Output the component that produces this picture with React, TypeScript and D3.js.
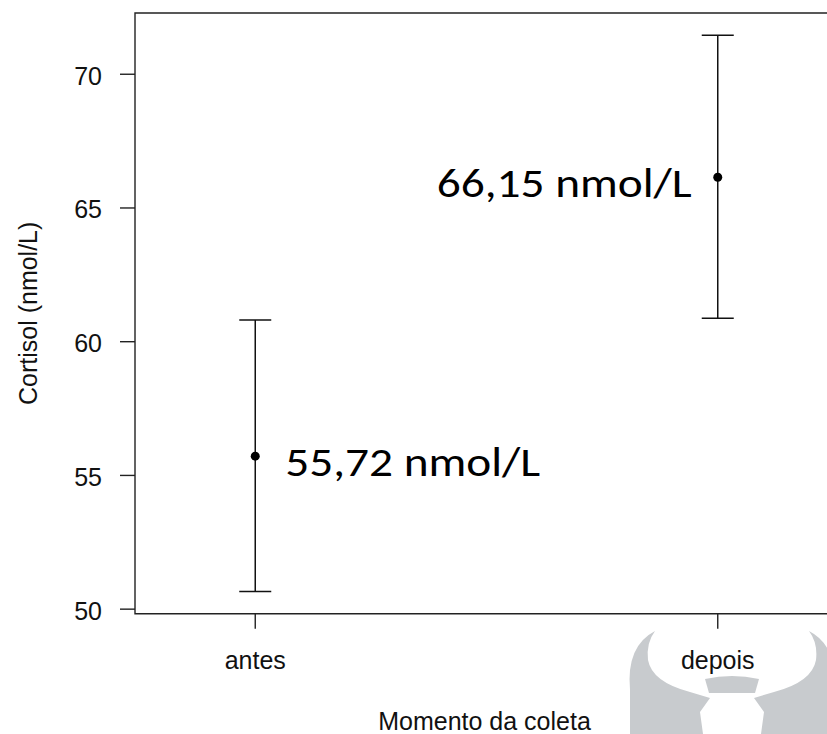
import React, { useEffect, useRef } from 'react';
import * as d3 from 'd3';

const categories = ['antes', 'depois'];
const means = [55.72, 66.15];
const lower = [50.66, 60.88];
const upper = [60.81, 71.46];
const pointLabels = ['55,72 nmol/L', '66,15 nmol/L'];
const yTicks = [50, 55, 60, 65, 70];

const WIDTH = 827;
const HEIGHT = 734;

function drawChart(container: SVGSVGElement) {
  const svg = d3.select(container);
  svg.selectAll('*').remove();

  // plot box (right edge runs off the canvas, like the original)
  const left = 135;
  const right = 838;
  const top = 13;
  const bottom = 613.7;

  const x = d3.scalePoint<string>()
    .domain(categories)
    .range([left, right])
    .padding(0.26);

  const y = d3.scaleLinear()
    .domain([49.83, 72.29])
    .range([bottom, top]);

  // watermark (grey bull head) sits behind everything
  const mark = svg.append('g').attr('fill', '#c8cbce');
  const cx = 732;
  const side = 'M655,631 Q626,646 630,690 L630,734 L703,734 L700,712 L710,698 L690,692 Q652,682 648,660 Q646,643 655,631 Z';
  mark.append('path').attr('d', side);
  mark.append('path').attr('d', side)
    .attr('transform', `translate(${2 * cx},0) scale(-1,1)`);
  mark.append('path').attr('d', 'M705,679 Q732,673 759,679 L755,693 L709,693 Z');

  // box
  svg.append('path')
    .attr('d', `M${right},${top} L${left},${top} L${left},${bottom} L${right},${bottom}`)
    .attr('fill', 'none')
    .attr('stroke', '#222')
    .attr('stroke-width', 1.4);

  const font = '"Liberation Sans", Arial, sans-serif';

  // y axis ticks
  const yAxis = svg.append('g');
  yAxis.selectAll('line')
    .data(yTicks)
    .enter().append('line')
    .attr('x1', left - 15)
    .attr('x2', left)
    .attr('y1', d => y(d))
    .attr('y2', d => y(d))
    .attr('stroke', '#222')
    .attr('stroke-width', 1.4);
  yAxis.selectAll('text')
    .data(yTicks)
    .enter().append('text')
    .attr('x', 102)
    .attr('y', d => y(d))
    .attr('dy', '0.42em')
    .attr('text-anchor', 'end')
    .style('font-family', font)
    .style('font-size', '25px')
    .attr('fill', '#111')
    .text(d => d);

  // x axis ticks
  const xAxis = svg.append('g');
  xAxis.selectAll('line')
    .data(categories)
    .enter().append('line')
    .attr('x1', d => x(d)!)
    .attr('x2', d => x(d)!)
    .attr('y1', bottom)
    .attr('y2', bottom + 15)
    .attr('stroke', '#222')
    .attr('stroke-width', 1.4);
  xAxis.selectAll('text')
    .data(categories)
    .enter().append('text')
    .attr('x', d => x(d)!)
    .attr('y', 669)
    .attr('text-anchor', 'middle')
    .style('font-family', font)
    .style('font-size', '25px')
    .attr('fill', '#111')
    .text(d => d);

  // axis titles
  svg.append('text')
    .attr('x', (left + right) / 2 - 2)
    .attr('y', 730)
    .attr('text-anchor', 'middle')
    .style('font-family', font)
    .style('font-size', '25px')
    .attr('fill', '#111')
    .text('Momento da coleta');

  svg.append('text')
    .attr('transform', `translate(37,${(top + bottom) / 2}) rotate(-90)`)
    .attr('text-anchor', 'middle')
    .style('font-family', font)
    .style('font-size', '25px')
    .attr('fill', '#111')
    .text('Cortisol (nmol/L)');

  // error bars
  const bars = svg.selectAll('.bar')
    .data(categories)
    .enter().append('g')
    .attr('class', 'bar')
    .attr('stroke', '#111')
    .attr('stroke-width', 1.5);
  bars.append('line')
    .attr('x1', d => x(d)!)
    .attr('x2', d => x(d)!)
    .attr('y1', (d, i) => y(upper[i]))
    .attr('y2', (d, i) => y(lower[i]));
  bars.append('line')
    .attr('x1', d => x(d)! - 16)
    .attr('x2', d => x(d)! + 16)
    .attr('y1', (d, i) => y(upper[i]))
    .attr('y2', (d, i) => y(upper[i]));
  bars.append('line')
    .attr('x1', d => x(d)! - 16)
    .attr('x2', d => x(d)! + 16)
    .attr('y1', (d, i) => y(lower[i]))
    .attr('y2', (d, i) => y(lower[i]));

  svg.selectAll('.pt')
    .data(categories)
    .enter().append('circle')
    .attr('class', 'pt')
    .attr('cx', d => x(d)!)
    .attr('cy', (d, i) => y(means[i]))
    .attr('r', 4.5)
    .attr('fill', '#000');

  // value labels next to the points
  svg.selectAll('.val')
    .data(categories)
    .enter().append('text')
    .attr('class', 'val')
    .attr('x', (d, i) => i === 0 ? x(d)! + 30 : x(d)! - 26)
    .attr('y', (d, i) => y(means[i]) + 20)
    .attr('text-anchor', (d, i) => i === 0 ? 'start' : 'end')
    .attr('textLength', 255)
    .attr('lengthAdjust', 'spacingAndGlyphs')
    .style('font-family', 'Carlito, Lato, sans-serif')
    .style('font-size', '40px')
    .attr('fill', '#000')
    .text((d, i) => pointLabels[i]);
}

const App = () => {
  const ref = useRef<SVGSVGElement>(null);

  useEffect(() => {
    if (ref.current) drawChart(ref.current);
  }, []);

  return (
    <svg
      ref={ref}
      width={WIDTH}
      height={HEIGHT}
      style={{ position: 'absolute', left: 0, top: 0, background: '#fff' }}
    />
  );
};

export default App;
